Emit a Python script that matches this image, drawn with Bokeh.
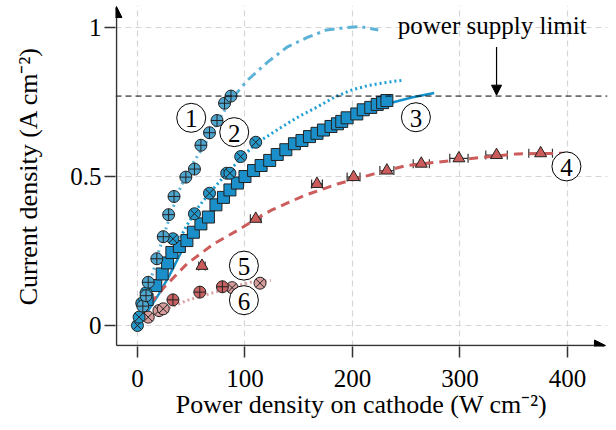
from bokeh.plotting import figure
from bokeh.models import Range1d, Arrow, NormalHead, Label, FixedTicker, Span, Whisker, ColumnDataSource, TeeHead
from bokeh.embed import file_html
from bokeh.resources import INLINE
from bokeh.core.properties import value

# ---------------- data ----------------
x_ticks = [0, 100, 200, 300, 400]
y_ticks = [0, 0.5, 1]
y_tick_labels = {0: "0", 0.5: "0.5", 1: "1"}

# series 1: circle-plus
s1_x = [5, 8, 10, 18, 24, 29, 34, 45, 53, 59, 67, 74, 81, 87]
s1_y = [0.065, 0.10, 0.145, 0.224, 0.298, 0.372, 0.433, 0.498, 0.525, 0.605, 0.647, 0.688, 0.746, 0.77]
# series 2: circle-x
s2_x = [0, 1.5, 4, 8, 33, 53, 67, 83, 86, 96, 110]
s2_y = [0.0, 0.028, 0.075, 0.11, 0.291, 0.375, 0.444, 0.511, 0.511, 0.567, 0.615]
# series 3: squares
s3_x = [9, 17, 23, 28, 32, 39, 46, 52, 59, 66, 73, 80, 86, 93, 100, 108, 115, 123, 130, 138,
        146, 153, 160, 167, 173, 180, 186, 190, 195, 204, 210, 217, 223, 228, 232]
s3_y = [0.087, 0.134, 0.173, 0.21, 0.245, 0.265, 0.285, 0.313, 0.341, 0.364, 0.405, 0.43, 0.455,
        0.478, 0.5, 0.52, 0.537, 0.554, 0.574, 0.59, 0.61, 0.621, 0.634, 0.645, 0.656, 0.668,
        0.677, 0.685, 0.697, 0.71, 0.724, 0.732, 0.742, 0.748, 0.755]
# series 4: triangles with horizontal error
s4_x = [60, 110, 167, 201, 232, 264, 299, 334, 375]
s4_y = [0.2, 0.358, 0.475, 0.498, 0.52, 0.543, 0.561, 0.572, 0.578]
s4_xerr = [3, 5, 5, 6, 6.5, 7.5, 8.5, 10, 11]
# series 5: red circle-plus ; series 6: pink circle-x
s5_x = [33, 58, 79]
s5_y = [0.086, 0.112, 0.13]
s6_x = [10, 20, 24, 88, 114]
s6_y = [0.028, 0.05, 0.056, 0.127, 0.142]

# fitted curves
c1a_x = [10, 15, 19, 23, 31, 40, 49, 56, 63, 72, 79, 89]
c1a_y = [0.13, 0.185, 0.24, 0.285, 0.375, 0.464, 0.529, 0.57, 0.61, 0.666, 0.71, 0.766]
c1b_x = [89, 102, 121, 139, 158, 176, 195, 207, 224]
c1b_y = [0.766, 0.822, 0.884, 0.934, 0.967, 0.992, 1.0, 1.003, 0.992]
c2_x = [25, 35, 45, 55, 67, 83, 96, 110, 125, 139, 152, 167, 183, 198, 214, 230, 248]
c2_y = [0.19, 0.26, 0.33, 0.39, 0.445, 0.51, 0.56, 0.61, 0.645, 0.677, 0.705, 0.733, 0.766,
        0.789, 0.805, 0.815, 0.824]
c3_x = [0, 10, 20, 30, 43, 60, 80, 100, 130, 160, 190, 215, 238, 256, 276]
c3_y = [0.0, 0.05, 0.106, 0.17, 0.263, 0.34, 0.42, 0.49, 0.565, 0.63, 0.68, 0.72, 0.749, 0.766, 0.78]
c4_x = [5, 9, 25, 46, 71, 93, 108, 124, 155, 186, 220, 250, 307, 353, 398]
c4_y = [0.03, 0.061, 0.129, 0.207, 0.274, 0.319, 0.352, 0.386, 0.436, 0.475, 0.509, 0.537,
        0.559, 0.576, 0.578]
c5_x = [12, 46, 77, 105, 124]
c5_y = [0.034, 0.084, 0.117, 0.145, 0.151]

limit_y = 0.77
label_names = ["1", "2", "3", "4", "5", "6"]
label_x = [50, 90, 259, 399, 99, 99]
label_y = [0.697, 0.649, 0.699, 0.534, 0.201, 0.085]

# ---------------- figure ----------------
SERIF = "Liberation Serif"
AX_X, AX_Y = -19.5, -0.0671          # where the axis lines sit
X0, X1 = -20.43, 437.2               # frame range
Y0, Y1 = -0.0705, 1.074
ARROW_X_END, ARROW_Y_END = 435.3, 1.0705

p = figure(frame_width=492, frame_height=341, min_border_left=115, min_border_right=5,
           min_border_top=5, min_border_bottom=20,
           x_range=Range1d(X0, X1), y_range=Range1d(Y0, Y1),
           output_backend="svg", toolbar_location=None)
p.outline_line_color = None
p.background_fill_color = "white"

for ax in (p.xaxis[0], p.yaxis[0]):
    ax.axis_line_color = None
    ax.major_tick_out = 11
    ax.major_tick_in = 0
    ax.major_tick_line_color = "#333333"
    ax.major_tick_line_width = 1.5
    ax.minor_tick_line_color = None
    ax.major_label_text_font = SERIF
    ax.major_label_text_font_size = "25px"
    ax.major_label_text_color = "black"
    ax.axis_label_text_font = SERIF
    ax.axis_label_text_font_size = "26px"
    ax.axis_label_text_font_style = "normal"
    ax.axis_label_text_color = "black"

p.xaxis.ticker = FixedTicker(ticks=x_ticks)
p.yaxis.ticker = FixedTicker(ticks=y_ticks)
p.yaxis.major_label_overrides = y_tick_labels
p.xaxis.axis_label = "Power density on cathode (W cm\u207b\u00b2)"
p.yaxis.axis_label = "Current density (A cm\u207b\u00b2)"
p.xaxis.major_label_standoff = 12
p.xaxis.axis_label_standoff = 0
p.yaxis.major_label_standoff = 3
p.yaxis.axis_label_standoff = 24

p.xgrid.ticker = FixedTicker(ticks=x_ticks)
p.ygrid.ticker = FixedTicker(ticks=y_ticks)
for g in (p.xgrid[0], p.ygrid[0]):
    g.grid_line_color = "#d6d6d6"
    g.grid_line_dash = "6 4"
    g.grid_line_width = 1.2

# power supply limit
p.add_layout(Span(location=limit_y, dimension="width", line_color="black",
                  line_dash="6 4", line_width=1))

# curves
p.line(c1a_x, c1a_y, line_color="#5db2d8", line_width=3, line_dash="2 4")
p.line(c1b_x, c1b_y, line_color="#5db2d8", line_width=3, line_dash="10 5 3 5")
p.line(c2_x, c2_y, line_color="#1d9ed3", line_width=3, line_dash="2 3")
p.line(c3_x, c3_y, line_color="#1590cb", line_width=2.5)
p.line(c4_x, c4_y, line_color="#cd5c5c", line_width=3, line_dash="9 6")
p.line(c5_x, c5_y, line_color="#dba0a0", line_width=3, line_dash="2 3")

# error bars
src4 = ColumnDataSource(dict(
    y=s4_y,
    lo=[x - e for x, e in zip(s4_x, s4_xerr)],
    hi=[x + e for x, e in zip(s4_x, s4_xerr)],
))
p.add_layout(Whisker(source=src4, base="y", lower="lo", upper="hi", dimension="width",
                     line_color="#333333", line_width=1.2,
                     lower_head=TeeHead(size=9, line_color="#333333", line_width=1.2),
                     upper_head=TeeHead(size=9, line_color="#333333", line_width=1.2)))

# points
p.scatter(s6_x, s6_y, marker="circle_x", size=12, fill_color="#d79c9c", line_color="#222222", line_width=1)
p.scatter(s5_x, s5_y, marker="circle_cross", size=12, fill_color="#c86262", line_color="#222222", line_width=1)
p.scatter(s4_x, s4_y, marker="triangle", size=12, fill_color="#cc5b5b", line_color="#222222", line_width=1)
p.scatter(s3_x, s3_y, marker="square", size=12, fill_color="#1a8fc9", line_color="#222222", line_width=1)
p.scatter(s2_x, s2_y, marker="circle_x", size=12, fill_color="#2496c8", line_color="#222222", line_width=1)
p.scatter(s1_x, s1_y, marker="circle_cross", size=12, fill_color="#4ea6cf", line_color="#222222", line_width=1)

# circled numbers
p.scatter(label_x, label_y, marker="circle", size=29, fill_color="white", line_color="black", line_width=1)
p.text(label_x, label_y, text=label_names, text_font=value(SERIF), text_font_size="25px",
       text_align="center", text_baseline="middle", text_color="black", y_offset=1)

# annotation text + arrow
p.add_layout(Label(x=330, y=1.007, text="power supply limit", text_font=SERIF,
                   text_font_size="25px", text_align="center", text_baseline="middle",
                   text_color="black"))
p.add_layout(Arrow(x_start=334, y_start=0.935, x_end=334, y_end=0.773, line_color="black",
                   line_width=1.2, end=NormalHead(size=10, fill_color="black", line_color="black")))

# axes with arrow heads
p.add_layout(Arrow(x_start=AX_X, y_start=AX_Y, x_end=ARROW_X_END, y_end=AX_Y, line_color="#333333",
                   line_width=1.5, end=NormalHead(size=11, fill_color="black", line_color="black")))
p.add_layout(Arrow(x_start=AX_X, y_start=AX_Y, x_end=AX_X, y_end=ARROW_Y_END, line_color="#333333",
                   line_width=1.5, end=NormalHead(size=11, fill_color="black", line_color="black")))

open("out.html", "w").write(file_html(p, INLINE))
